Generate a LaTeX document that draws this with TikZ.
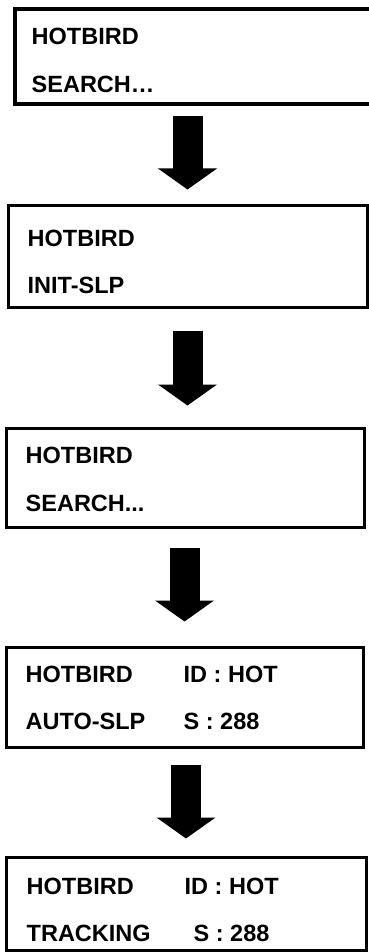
\documentclass[tikz,border=0pt]{standalone}
\usepackage{fontspec}
\setmainfont{Liberation Sans}
\usetikzlibrary{positioning, arrows.meta, calc}

\begin{document}
\begin{tikzpicture}[
    x=1pt, y=-1pt,
    screen/.style={rectangle, draw=black, line width=3pt, inner sep=0pt, minimum width=358pt},
    txt/.style={anchor=base west, inner sep=0pt, font=\fontsize{23.5}{28}\selectfont\bfseries},
    bigarr/.style={line width=30pt, -{Triangle[width=58pt, length=21pt]}},
  ]
    \useasboundingbox (0,0) rectangle (369,952);
    \clip (0,0) rectangle (369,952);

    % first screen runs past the right edge
    \node[screen, line width=4pt, minimum width=366pt, minimum height=95.5pt] (s1) at (198,56.75) {};
    \node[screen, minimum width=359pt, minimum height=102pt] (s2) at (187.5,256) {};
    \node[screen, minimum height=99pt] (s3) at (185,477.5) {};
    \node[screen, minimum width=357pt, minimum height=100pt] (s4) at (184.5,697) {};
    \node[screen, minimum width=360pt, minimum height=93pt] (s5) at (186,903.5) {};

    \node[txt] (s1a) at (31.5,45) {HOTBIRD};
    \node[txt] (s1b) at (31.5,93) {SEARCH…};
    \node[txt] (s2a) at (27.5,246) {HOTBIRD};
    \node[txt] (s2b) at (27.5,293) {INIT-SLP};
    \node[txt] (s3a) at (25.5,463) {HOTBIRD};
    \node[txt] (s3b) at (25.5,511) {SEARCH...};
    \node[txt] (s4a) at (25.5,682) {HOTBIRD};
    \node[txt] (s4b) at (25.5,729) {AUTO-SLP};
    \node[txt] (s4c) at (183.5,682) {ID : HOT};
    \node[txt] (s4d) at (183.5,729) {S : 288};
    \node[txt] (s5a) at (26.5,894) {HOTBIRD};
    \node[txt] (s5b) at (26.5,941) {TRACKING};
    \node[txt] (s5c) at (184.5,894) {ID : HOT};
    \node[txt] (s5d) at (193.5,941) {S : 288};

    \draw[bigarr, shorten <=9.5pt, shorten >=14pt] (s1.south -| s2.north) -- (s2.north);
    \draw[bigarr, shorten <=22pt, shorten >=21pt] (s2.south) -- (s3.north -| s2.south);
    \draw[bigarr, shorten <=19pt, shorten >=24pt] (s3.south -| s4.north) -- (s4.north);
    \draw[bigarr, shorten <=16pt, shorten >=17pt] (s4.south -| s5.north) -- (s5.north);
  \end{tikzpicture}
\end{document}
